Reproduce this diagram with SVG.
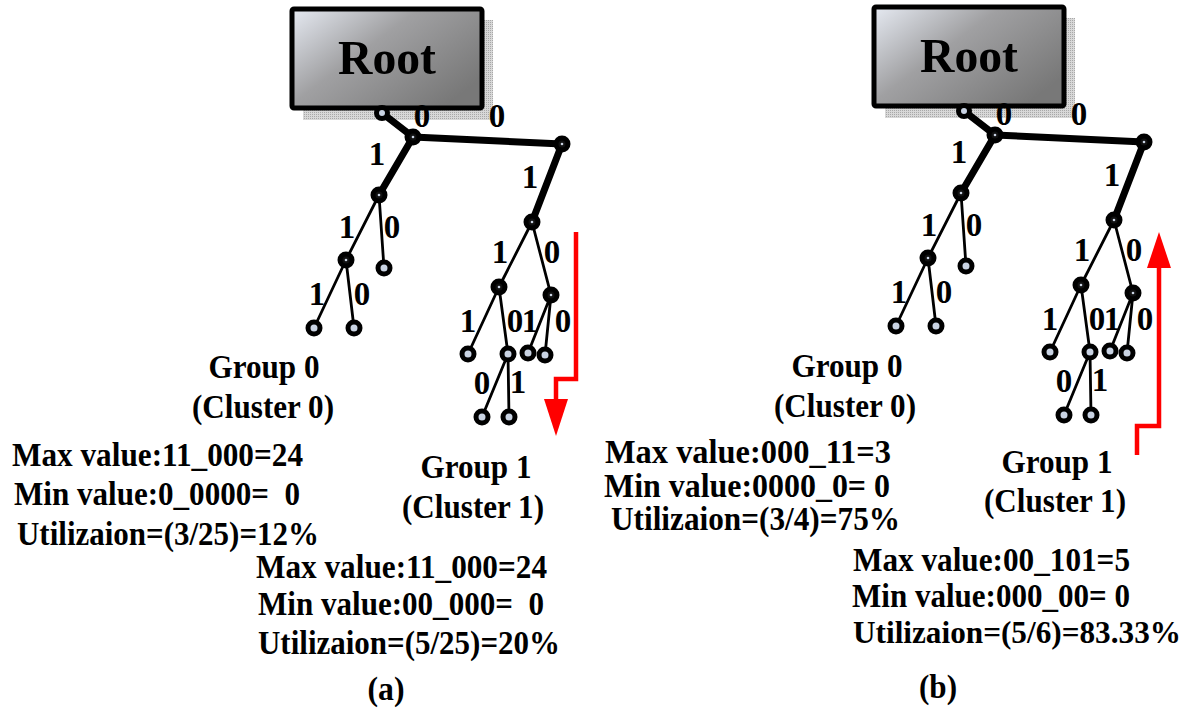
<svg xmlns="http://www.w3.org/2000/svg" width="1196" height="713" viewBox="0 0 1196 713">
<style>
text{font-family:"Liberation Serif","Times New Roman",serif;font-weight:bold;fill:#000}
.t{font-size:33px;white-space:pre}
.s{font-size:31.5px}
.m{text-anchor:middle}
.lbl{font-size:33px;text-anchor:middle}
.root{font-size:49px;text-anchor:middle}
.thick{stroke:#000;stroke-width:7;stroke-linecap:round;stroke-linejoin:round;fill:none}
.thin{stroke:#000;stroke-width:2.8;fill:none}
.leaf{fill:#c9d3e3;stroke:#000;stroke-width:5}
.inner{fill:#111;stroke:#000;stroke-width:5}
.dot{fill:#c9d3e3}
.red{stroke:#f00;stroke-width:4.5;fill:none}
.box{fill:url(#grad);stroke:#000;stroke-width:5}
.shadow{fill:url(#stipple)}
</style>
<defs>
<linearGradient id="grad" x1="0" y1="0" x2="1" y2="0.7">
<stop offset="0" stop-color="#e6eaf2"/>
<stop offset="0.45" stop-color="#a0a0a2"/>
<stop offset="1" stop-color="#787878"/>
</linearGradient>
<pattern id="stipple" width="2" height="2" patternUnits="userSpaceOnUse">
<rect width="2" height="2" fill="#d8d8d8"/>
<rect width="1" height="1" fill="#a8a8a8"/>
</pattern>
</defs>
<rect width="1196" height="713" fill="#fff"/>

<g id="panel-a">
<g id="a-root">
<rect class="shadow" x="303" y="20" width="190" height="100"/>
<rect class="box" x="292" y="9" width="190" height="99" rx="2"/>
<text class="root" x="387" y="74" textLength="98" lengthAdjust="spacingAndGlyphs">Root</text>
</g>
<g id="a-connectors">
<path class="thick" d="M382,113 L413,137 L562,144 M413,137 L379,195 M562,144 L532,222"/>
<path class="thin" d="M379,195 L346,260 M379,195 L384,268 M346,260 L314,328 M346,260 L354,328 M532,222 L499,287 M532,222 L551,295 M499,287 L468,354 M499,287 L508,354 M551,295 L528,353 M551,295 L545,355 M508,354 L482,417 M508,354 L509,417"/>
</g>
<g id="a-labels">
<text class="lbl" x="422" y="127">0</text>
<text class="lbl" x="497" y="127">0</text>
<text class="lbl" x="377" y="165">1</text>
<text class="lbl" x="530" y="188">1</text>
<text class="lbl" x="347" y="238">1</text>
<text class="lbl" x="392" y="238">0</text>
<text class="lbl" x="317" y="305">1</text>
<text class="lbl" x="362" y="305">0</text>
<text class="lbl" x="500" y="263">1</text>
<text class="lbl" x="552" y="263">0</text>
<text class="lbl" x="468" y="332">1</text>
<text class="lbl" x="515" y="332">0</text>
<text class="lbl" x="530" y="332">1</text>
<text class="lbl" x="563" y="332">0</text>
<text class="lbl" x="482" y="394">0</text>
<text class="lbl" x="518" y="393">1</text>
</g>
<g id="a-n0"><circle class="leaf" cx="382" cy="113" r="5.5"/></g>
<g id="a-nA"><circle class="inner" cx="413" cy="137" r="6"/><circle class="dot" cx="413" cy="137" r="1.3"/></g>
<g id="a-nB"><circle class="inner" cx="562" cy="144" r="6"/><circle class="dot" cx="562" cy="144" r="1.3"/></g>
<g id="a-nL1"><circle class="inner" cx="379" cy="195" r="6"/><circle class="dot" cx="379" cy="195" r="1.3"/></g>
<g id="a-nL2"><circle class="inner" cx="346" cy="260" r="6"/><circle class="dot" cx="346" cy="260" r="1.3"/></g>
<g id="a-nL3"><circle class="leaf" cx="384" cy="268" r="6"/></g>
<g id="a-nL4"><circle class="leaf" cx="314" cy="328" r="6"/></g>
<g id="a-nL5"><circle class="leaf" cx="354" cy="328" r="6"/></g>
<g id="a-nC"><circle class="inner" cx="532" cy="222" r="6"/><circle class="dot" cx="532" cy="222" r="1.3"/></g>
<g id="a-nD"><circle class="inner" cx="499" cy="287" r="6"/><circle class="dot" cx="499" cy="287" r="1.3"/></g>
<g id="a-nE"><circle class="inner" cx="551" cy="295" r="6"/><circle class="dot" cx="551" cy="295" r="1.3"/></g>
<g id="a-nF"><circle class="leaf" cx="468" cy="354" r="6"/></g>
<g id="a-nG"><circle class="leaf" cx="508" cy="354" r="6"/></g>
<g id="a-nH"><circle class="leaf" cx="528" cy="353" r="6"/></g>
<g id="a-nI"><circle class="leaf" cx="545" cy="355" r="6"/></g>
<g id="a-nJ"><circle class="leaf" cx="482" cy="417" r="6"/></g>
<g id="a-nK"><circle class="leaf" cx="509" cy="417" r="6"/></g>
<g id="a-arrow">
<path class="red" d="M576,232 V379 H556 V400"/>
<polygon points="544,399 568,399 556,436" fill="#f00"/>
</g>
<g id="a-text">
<text class="t m" x="264" y="378" textLength="111" lengthAdjust="spacingAndGlyphs">Group 0</text>
<text class="t m" x="263" y="418" textLength="142" lengthAdjust="spacingAndGlyphs">(Cluster 0)</text>
<text class="t" x="12" y="466" textLength="291" lengthAdjust="spacingAndGlyphs">Max value:11_000=24</text>
<text class="t" x="14" y="505" textLength="286" lengthAdjust="spacingAndGlyphs">Min value:0_0000=  0</text>
<text class="t" x="17" y="545" textLength="302" lengthAdjust="spacingAndGlyphs">Utilizaion=(3/25)=12%</text>
<text class="t m" x="476" y="478" textLength="111" lengthAdjust="spacingAndGlyphs">Group 1</text>
<text class="t m" x="473" y="518" textLength="142" lengthAdjust="spacingAndGlyphs">(Cluster 1)</text>
<text class="t" x="256" y="578" textLength="291" lengthAdjust="spacingAndGlyphs">Max value:11_000=24</text>
<text class="t" x="258" y="615" textLength="286" lengthAdjust="spacingAndGlyphs">Min value:00_000=  0</text>
<text class="t" x="258" y="654" textLength="302" lengthAdjust="spacingAndGlyphs">Utilizaion=(5/25)=20%</text>
<text class="t m" x="386" y="700" textLength="37" lengthAdjust="spacingAndGlyphs">(a)</text>
</g>
</g>

<g id="panel-b">
<g transform="translate(582,-2)">
<g id="b-root">
<rect class="shadow" x="303" y="20" width="190" height="100"/>
<rect class="box" x="292" y="9" width="190" height="99" rx="2"/>
<text class="root" x="387" y="74" textLength="98" lengthAdjust="spacingAndGlyphs">Root</text>
</g>
<g id="b-connectors">
<path class="thick" d="M382,113 L413,137 L562,144 M413,137 L379,195 M562,144 L532,222"/>
<path class="thin" d="M379,195 L346,260 M379,195 L384,268 M346,260 L314,328 M346,260 L354,328 M532,222 L499,287 M532,222 L551,295 M499,287 L468,354 M499,287 L508,354 M551,295 L528,353 M551,295 L545,355 M508,354 L482,417 M508,354 L509,417"/>
</g>
<g id="b-labels">
<text class="lbl" x="422" y="127">0</text>
<text class="lbl" x="497" y="127">0</text>
<text class="lbl" x="377" y="165">1</text>
<text class="lbl" x="530" y="188">1</text>
<text class="lbl" x="347" y="238">1</text>
<text class="lbl" x="392" y="238">0</text>
<text class="lbl" x="317" y="305">1</text>
<text class="lbl" x="362" y="305">0</text>
<text class="lbl" x="500" y="263">1</text>
<text class="lbl" x="552" y="263">0</text>
<text class="lbl" x="468" y="332">1</text>
<text class="lbl" x="515" y="332">0</text>
<text class="lbl" x="530" y="332">1</text>
<text class="lbl" x="563" y="332">0</text>
<text class="lbl" x="482" y="394">0</text>
<text class="lbl" x="518" y="393">1</text>
</g>
<g id="b-n0"><circle class="leaf" cx="382" cy="113" r="5.5"/></g>
<g id="b-nA"><circle class="inner" cx="413" cy="137" r="6"/><circle class="dot" cx="413" cy="137" r="1.3"/></g>
<g id="b-nB"><circle class="inner" cx="562" cy="144" r="6"/><circle class="dot" cx="562" cy="144" r="1.3"/></g>
<g id="b-nL1"><circle class="inner" cx="379" cy="195" r="6"/><circle class="dot" cx="379" cy="195" r="1.3"/></g>
<g id="b-nL2"><circle class="inner" cx="346" cy="260" r="6"/><circle class="dot" cx="346" cy="260" r="1.3"/></g>
<g id="b-nL3"><circle class="leaf" cx="384" cy="268" r="6"/></g>
<g id="b-nL4"><circle class="leaf" cx="314" cy="328" r="6"/></g>
<g id="b-nL5"><circle class="leaf" cx="354" cy="328" r="6"/></g>
<g id="b-nC"><circle class="inner" cx="532" cy="222" r="6"/><circle class="dot" cx="532" cy="222" r="1.3"/></g>
<g id="b-nD"><circle class="inner" cx="499" cy="287" r="6"/><circle class="dot" cx="499" cy="287" r="1.3"/></g>
<g id="b-nE"><circle class="inner" cx="551" cy="295" r="6"/><circle class="dot" cx="551" cy="295" r="1.3"/></g>
<g id="b-nF"><circle class="leaf" cx="468" cy="354" r="6"/></g>
<g id="b-nG"><circle class="leaf" cx="508" cy="354" r="6"/></g>
<g id="b-nH"><circle class="leaf" cx="528" cy="353" r="6"/></g>
<g id="b-nI"><circle class="leaf" cx="545" cy="355" r="6"/></g>
<g id="b-nJ"><circle class="leaf" cx="482" cy="417" r="6"/></g>
<g id="b-nK"><circle class="leaf" cx="509" cy="417" r="6"/></g>
</g>
<g id="b-arrow">
<path class="red" d="M1137,455 V426 H1159 V267"/>
<polygon points="1147,268 1171,268 1159,232" fill="#f00"/>
</g>
<g id="b-text">
<text class="t m" x="847" y="377" textLength="111" lengthAdjust="spacingAndGlyphs">Group 0</text>
<text class="t m" x="845" y="417" textLength="142" lengthAdjust="spacingAndGlyphs">(Cluster 0)</text>
<text class="t" x="605" y="463" textLength="286" lengthAdjust="spacingAndGlyphs">Max value:000_11=3</text>
<text class="t" x="604" y="497" textLength="286" lengthAdjust="spacingAndGlyphs">Min value:0000_0= 0</text>
<text class="t" x="611" y="530" textLength="289" lengthAdjust="spacingAndGlyphs">Utilizaion=(3/4)=75%</text>
<text class="t m" x="1057" y="473" textLength="111" lengthAdjust="spacingAndGlyphs">Group 1</text>
<text class="t m" x="1055" y="512" textLength="142" lengthAdjust="spacingAndGlyphs">(Cluster 1)</text>
<text class="t" x="853" y="571" textLength="277" lengthAdjust="spacingAndGlyphs">Max value:00_101=5</text>
<text class="t" x="852" y="607" textLength="278" lengthAdjust="spacingAndGlyphs">Min value:000_00= 0</text>
<text class="t s" x="853" y="643" textLength="328" lengthAdjust="spacingAndGlyphs">Utilizaion=(5/6)=83.33%</text>
<text class="t m" x="938" y="698" textLength="38" lengthAdjust="spacingAndGlyphs">(b)</text>
</g>
</g>
</svg>
